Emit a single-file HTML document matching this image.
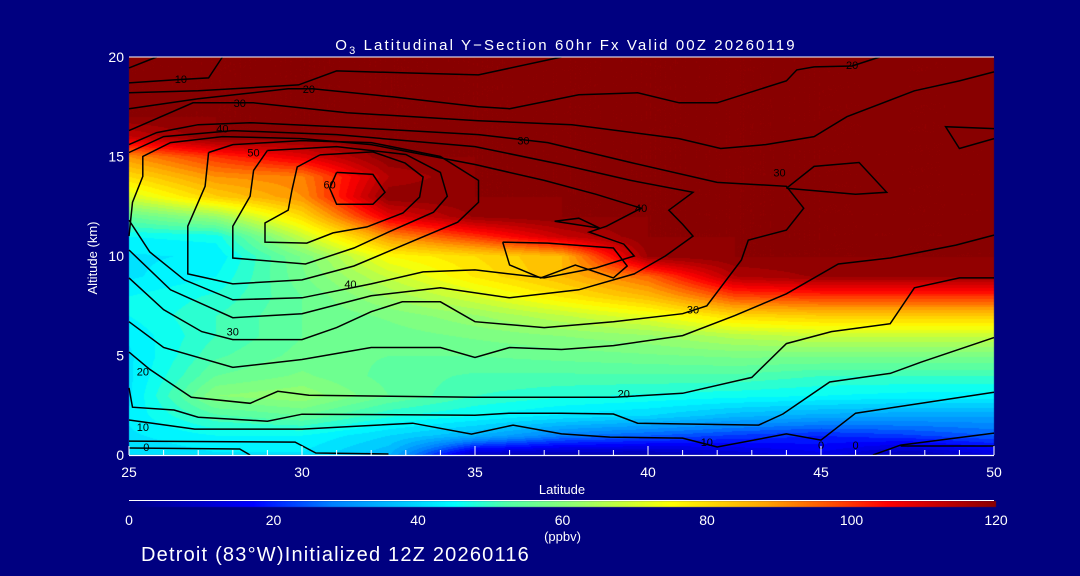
<!DOCTYPE html>
<html><head><meta charset="utf-8">
<style>
html,body{margin:0;padding:0;background:#000080;}
#wrap{position:relative;width:1080px;height:576px;background:#000080;overflow:hidden;font-family:"Liberation Sans",sans-serif;color:#fff;}
canvas{position:absolute;left:0;top:0;}
svg{position:absolute;left:0;top:0;}
</style></head>
<body>
<div id="wrap">
<canvas id="field" width="1080" height="576"></canvas>
<svg id="svg" width="1080" height="576"></svg>
</div>
<script>
// ---------- data ----------
const lats = [25,27.5,30,32.5,35,37.5,40,42.5,45,47.5,50];
const alts = [0,1,2,3,4,5,6,7,8,9,10,11,12,13,14,15,16,17,18,19,20];
// rows indexed by altitude (0 km .. 20 km), columns by latitude
const o3 = [
 [40,42,42,35,8,6,6,10,14,6,12],
 [42,45,45,40,35,28,25,22,20,22,25],
 [43,52,55,48,45,42,40,36,34,33,33],
 [42,60,62,55,50,48,47,46,45,44,44],
 [42,55,58,54,52,52,52,52,50,50,50],
 [42,52,56,55,55,56,57,58,58,58,58],
 [43,50,55,56,58,60,62,66,68,68,68],
 [45,50,55,58,62,67,72,80,82,82,82],
 [45,48,55,63,70,78,85,98,100,100,100],
 [42,45,57,68,78,85,95,115,118,118,118],
 [42,43,58,75,80,85,118,120,120,120,120],
 [45,46,68,90,100,112,120,120,120,120,120],
 [55,62,80,108,118,120,120,120,120,120,120],
 [70,82,90,120,120,120,120,120,120,120,120],
 [80,90,92,115,120,120,120,120,120,120,120],
 [90,100,108,120,120,120,120,120,120,120,120],
 [112,120,120,120,120,120,120,120,120,120,120],
 [120,120,120,120,120,120,120,120,120,120,120],
 [120,120,120,120,120,120,120,120,120,120,120],
 [120,120,120,120,120,120,120,120,120,120,120],
 [120,120,120,120,120,120,120,120,120,120,120]
];
const cmapVals = [0,10,17,28,38,45,52,62,75,88,97,105,120];
const cmapCols = [[0,0,130],[0,0,200],[0,0,255],[0,128,255],[0,200,255],[0,255,255],[80,255,170],[150,255,110],[255,255,0],[255,165,0],[255,80,0],[255,0,0],[136,0,0]];
const xTicks = [25,30,35,40,45,50];
const yTicks = [0,5,10,15,20];
const cbTicks = [0,20,40,60,80,100,120];
// contour lines [lat, alt]
const contours = [
 [[25,19.45],[25.8,20]],
 [[25,18.7],[26.3,18.85],[27.3,18.95],[27.7,20]],
 [[25,18.2],[27,18.3],[29.9,18.6],[31,19.3],[33,19.2],[35.1,19.1],[37.5,20]],
 [[25,17.4],[27,17.9],[29.6,18.4],[30.3,18.4],[32.6,18.0],[35.1,17.5],[36,17.4],[38,18.1],[39.7,18.2],[40.9,17.7],[42,17.7],[43,18.25],[44,18.8],[44.3,19.35],[44.8,19.5],[45.9,19.55],[46.7,20]],
 [[50,19.25],[49,18.8],[47.7,18.3],[45.75,17.0],[44.8,16.0],[43.4,15.6],[42.1,15.4],[40.9,15.9],[37.8,16.6],[35.1,16.8],[31.3,17.2],[28.6,17.7],[26.85,17.7],[25,16.3]],
 [[25,15.6],[25.8,16.2],[27,16.6],[28.5,16.7],[31,16.5],[35.1,16.1],[37.1,15.7],[39.5,14.7],[42,13.7],[44,13.5],[44.5,12.4],[44,11.3],[42.9,10.8],[42.7,9.8],[41.7,7.5],[41,7.1],[39,6.7],[37,6.4],[35,6.7],[34,7.7],[32.9,7.7],[32,7.2],[31,6.4],[30,5.8],[28,5.8],[27.1,6.2],[26,7.3],[25,8.9]],
 [[44,13.4],[44.8,14.5],[46.1,14.7],[46.9,13.2],[46,13.1],[44,13.4]],
 [[50,16.4],[48.6,16.5],[49,15.4],[50,15.9]],
 [[25,15.2],[26,16.0],[28,16.3],[31,16.1],[35,15.5],[37.5,14.6],[39.5,13.8],[41.3,13.2],[40.6,12.3],[41,11.6],[41.3,11.0],[40.5,10.0],[39.6,9.1],[38,8.3],[36,7.9],[34,8.4],[32,8.0],[30,7.1],[28,6.9],[26.2,8.3],[25,10.3]],
 [[25,11.0],[25.1,12.7],[25.4,14.0],[25.4,15.0],[26.2,15.7],[27.7,16.0],[30,15.9],[32,15.6],[35,14.6],[37,13.8],[38.5,13.1],[39.8,12.4],[38.8,11.5],[38.3,11.2],[39.3,10.6],[39.6,10.0],[38.5,9.4],[37,8.9],[35,9.3],[33.5,9.2],[32,8.6],[30,7.9],[28,7.8],[26.6,8.8],[25.6,10.2],[25,11.8]],
 [[27.3,15.2],[28,15.6],[30,15.8],[32,15.7],[34,15.0],[35.1,13.8],[35.1,12.7],[34.5,11.7],[33,10.6],[31.5,9.5],[30,8.8],[28,8.6],[26.7,9.1],[26.7,11.5],[27.2,13.5],[27.3,15.2]],
 [[29,15.3],[31,15.5],[33,15.1],[34.0,14.2],[34.2,13],[33.8,12.2],[32.5,11.2],[31.5,10.4],[30.1,9.6],[28.0,9.9],[28.0,11.5],[28.5,13.0],[28.6,14.3],[29,15.3]],
 [[30.52,15.08],[32.05,15.23],[32.98,14.67],[33.5,13.97],[33.4,12.96],[32.92,12.16],[31.88,11.46],[30.9,11.16],[30.14,10.65],[28.93,10.7],[28.93,11.66],[29.6,12.3],[29.71,13.32],[29.86,14.47],[30.52,15.08]],
 [[31.0,14.2],[32.05,14.1],[32.4,13.2],[32.05,12.6],[31.0,12.6],[30.8,13.4],[31.0,14.2]],
 [[35.8,10.7],[37.1,10.65],[39,10.4],[39.4,9.5],[39,8.9],[37.9,9.55],[36.9,8.9],[36,9.55],[35.8,10.7]],
 [[37.3,11.75],[38.0,11.9],[38.6,11.4],[37.3,11.75]],
 [[25,5.17],[25.6,4.3],[26.8,2.9],[28.5,2.6],[29.3,3.2],[30.2,3.0],[35,2.9],[37.5,2.9],[39,2.9],[41,3.1],[43,3.9],[44,5.6],[45.3,6.2],[47,6.6],[47.7,8.4],[49,8.9],[50,8.9]],
 [[25,6.7],[26,5.4],[28,4.4],[30,4.8],[32,5.4],[34,5.4],[35,4.9],[36,5.4],[37.5,5.3],[39,5.5],[41,6.0],[42.5,7.0],[44,8.1],[45.5,9.6],[47,9.9],[48.9,10.55],[50,11.05]],
 [[25,3.37],[25.1,2.4],[26.3,2.26],[27,1.9],[29,1.7],[30,2.05],[35,2.0],[36,2.1],[37.5,2.1],[39,2.06],[39.7,1.6],[43.2,1.5],[43.9,2.06],[45.25,3.67],[47,4.1],[47.9,4.67],[50,5.9]],
 [[25,1.76],[26.9,1.3],[30,1.3],[33.2,1.6],[34.9,1.05],[36.1,1.5],[37.5,1.06],[38.9,0.9],[41,0.85],[42,0.4],[44,1.06],[45,0.75],[46,2.1],[50,3.15]],
 [[25,0.7],[29.8,0.65],[30.4,0.1],[32.5,0.05]],
 [[25,0.35],[28.2,0.3],[28.5,0]],
 [[46.5,0],[47.3,0.5],[50,1.1]],
 [[47.3,0.45],[50,0.45]]
];
const clabLat = [26.5,30.2,28.2,27.7,28.6,30.8,25.5,28.0,25.4,25.4,36.4,39.8,31.4,41.3,39.3,45.9,43.8,45.0,46.0,41.7];
const clabAlt = [18.9,18.4,17.7,16.4,15.2,13.6,0.4,6.2,4.2,1.4,15.8,12.4,8.6,7.3,3.1,19.6,14.2,0.5,0.5,0.65];
const clabTxt = ["10","20","30","40","50","60","0","30","20","10","30","40","40","30","20","20","30","0","0","10"];

// ---------- axes ----------
const X0=129,X1=994,Y0=455,Y1=57;
const xs = lat => X0 + (lat-25)/(50-25)*(X1-X0);
const ys = a => Y0 - a/20*(Y0-Y1);
const CB0=129,CB1=996;
const cbx = v => CB0 + v/120*(CB1-CB0);

function color(v){
  v=Math.max(0,Math.min(120,v));
  for(let i=1;i<cmapVals.length;i++){
    if(v<=cmapVals[i]){
      const t=(v-cmapVals[i-1])/(cmapVals[i]-cmapVals[i-1]);
      const a=cmapCols[i-1],b=cmapCols[i];
      return [a[0]+(b[0]-a[0])*t,a[1]+(b[1]-a[1])*t,a[2]+(b[2]-a[2])*t];
    }
  }
  return cmapCols[cmapCols.length-1];
}
function fieldAt(lat,alt){
  let fi=(lat-lats[0])/(lats[1]-lats[0]); fi=Math.max(0,Math.min(lats.length-1.0001,fi));
  let fj=alt; fj=Math.max(0,Math.min(alts.length-1.0001,fj));
  const i=Math.floor(fi),j=Math.floor(fj),u=fi-i,w=fj-j;
  return o3[j][i]*(1-u)*(1-w)+o3[j][i+1]*u*(1-w)+o3[j+1][i]*(1-u)*w+o3[j+1][i+1]*u*w;
}
const cv=document.getElementById('field');
const ctx=cv.getContext('2d');
const img=ctx.createImageData(X1-X0,Y0-Y1);
for(let py=0;py<Y0-Y1;py++){
  for(let px=0;px<X1-X0;px++){
    const lat=25+px/(X1-X0)*25, alt=20-py/(Y0-Y1)*20;
    let v=fieldAt(lat,alt); v=Math.floor(v/2.5)*2.5+1.25;
    const c=color(v), k=(py*(X1-X0)+px)*4;
    img.data[k]=c[0];img.data[k+1]=c[1];img.data[k+2]=c[2];img.data[k+3]=255;
  }
}
ctx.putImageData(img,X0,Y1);
// colorbar
for(let x=CB0;x<CB1;x++){
  const c=color((x-CB0)/(CB1-CB0)*120);
  ctx.fillStyle=`rgb(${c[0]|0},${c[1]|0},${c[2]|0})`;
  ctx.fillRect(x,501,1,6);
}

const NS='http://www.w3.org/2000/svg';
const svg=document.getElementById('svg');
function mk(tag,attrs,parent){const e=document.createElementNS(NS,tag);for(const k in attrs)e.setAttribute(k,attrs[k]);(parent||svg).appendChild(e);return e;}
function txt(x,y,s,size,anchor,parent){const t=mk('text',{x:x,y:y,'font-size':size,'text-anchor':anchor||'middle',fill:'#fff','font-family':'Liberation Sans, sans-serif'},parent);t.textContent=s;return t;}

const gC=mk('g',{});


contours.forEach((ln,i)=>{
  const p=mk('polyline',{points:ln.map(q=>xs(q[0]).toFixed(1)+','+ys(q[1]).toFixed(1)).join(' '),fill:'none',stroke:'#000','stroke-width':1.5},gC);
  
  
});
clabTxt.forEach((s,i)=>{
  const t=mk('text',{x:xs(clabLat[i]),y:ys(clabAlt[i])+4,'font-size':11,'text-anchor':'middle',fill:'#000','font-family':'Liberation Sans, sans-serif'},gC);
  t.textContent=s;
  
  
});

// frame
const gA=mk('g',{});


mk('line',{x1:X0,y1:Y1,x2:X1,y2:Y1,stroke:'#fff','stroke-width':1},gA);
mk('line',{x1:X0,y1:Y0+0.5,x2:X1,y2:Y0+0.5,stroke:'#fff','stroke-width':1.2},gA);
for(let lat=25;lat<=50;lat++){
  const major=lat%5===0;
  mk('line',{x1:xs(lat),y1:Y0,x2:xs(lat),y2:Y0-(major?9:5),stroke:'#fff','stroke-width':1},gA);
}
xTicks.forEach(v=>{const t=txt(xs(v),477,String(v),14,'middle',gA);});
yTicks.forEach(v=>{const t=txt(124,ys(v)+5,String(v),14,'end',gA);});
const xt=txt(562,494,'Latitude',13,'middle',gA);

const yt=txt(0,0,'Altitude (km)',13,'middle',gA);
yt.setAttribute('transform','translate(97,258) rotate(-90)');


// colorbar frame + labels
const gB=mk('g',{});


mk('line',{x1:CB0,y1:500.5,x2:CB1-2,y2:500.5,stroke:'#fff','stroke-width':1},gB);
cbTicks.forEach(v=>{const t=txt(cbx(v),525,String(v),14,'middle',gB);});
const un=txt(cbx(60),541,'(ppbv)',13,'middle',gB);


// title
const ti=mk('text',{x:566,y:50,'font-size':15,'text-anchor':'middle',fill:'#fff','letter-spacing':'2.1','font-family':'Liberation Sans, sans-serif'});

ti.innerHTML='O<tspan font-size="11" dy="4">3</tspan><tspan dy="-4"> Latitudinal Y\u2212Section 60hr  Fx Valid 00Z 20260119</tspan>';
const ft=txt(141,561,'Detroit (83°W)Initialized 12Z 20260116',20,'start');
ft.setAttribute('letter-spacing','1.2');

</script>
</body></html>
